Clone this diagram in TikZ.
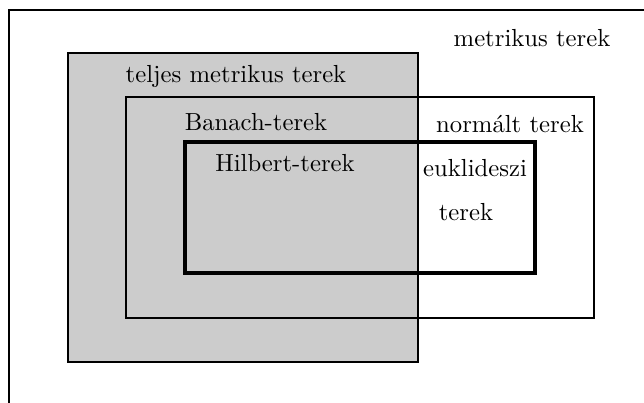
\documentclass[tikz,border=0pt]{standalone}
\usepackage{tikz}
\usetikzlibrary{positioning}
\definecolor{halfgray}{gray}{0.8}
\tikzset{
    terlabel/.style={inner sep=1pt,anchor=center},
    thinbox/.style={draw=black,line width=0.5pt},
    thickbox/.style={draw=black,line width=1.6pt}
}

\begin{document}
\begin{tikzpicture}[x=0.405pt,y=-0.405pt]
    \useasboundingbox (0,0) rectangle (644,402);
    % outer frame, cut off at the right and bottom
    \draw[thinbox] (9,10) rectangle (700,460);
    % complete spaces
    \draw[thinbox,fill=halfgray] (68,53) rectangle (418,362);
    % normed spaces
    \draw[thinbox] (126,97) rectangle (594,318);
    % inner product spaces
    \draw[thickbox] (185,142) rectangle (535,273);
    \node[terlabel] (metr)   at (532,38)  {metrikus terek};
    \node[terlabel] (teljes) at (236,76)  {teljes metrikus terek};
    \node[terlabel] (banach) at (256,122) {Banach-terek};
    \node[terlabel] (norm)   at (510,124) {norm\'alt terek};
    \node[terlabel] (hilb)   at (285,163) {Hilbert-terek};
    \node[terlabel] (eukl)   at (475,168) {euklideszi};
    \node[terlabel] (euklt)  at (466,212) {terek};
\end{tikzpicture}
\end{document}
